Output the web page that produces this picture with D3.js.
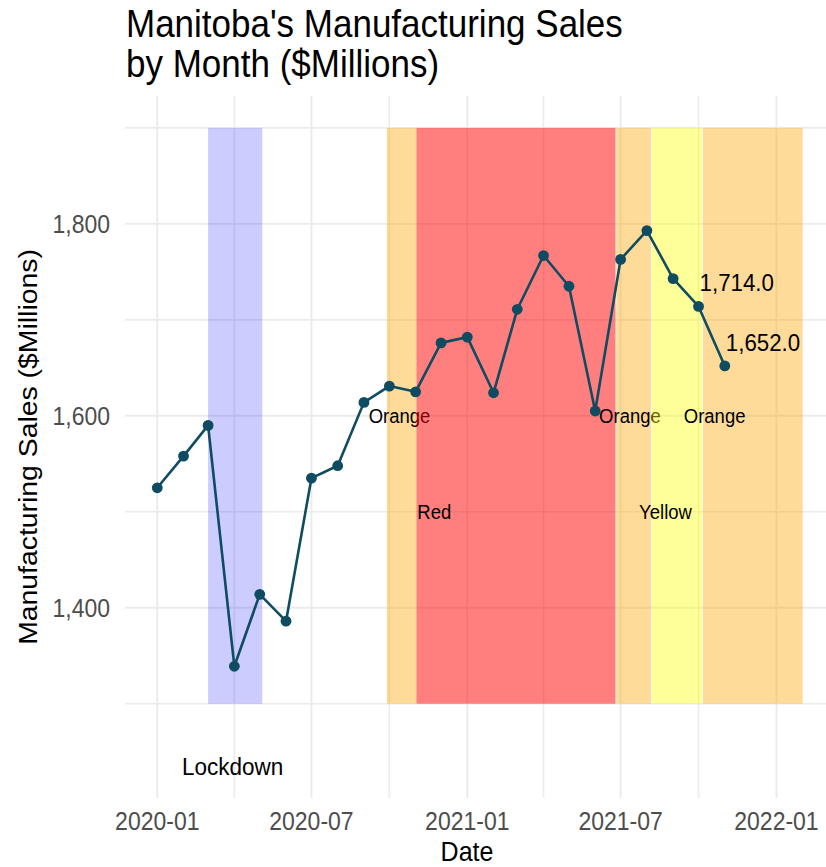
<!DOCTYPE html>
<html>
<head>
<meta charset="utf-8">
<script src="https://cdn.jsdelivr.net/npm/d3@7"></script>
<style>
  html, body { margin: 0; padding: 0; background: #ffffff; }
  svg { display: block; font-family: "Liberation Sans", Arial, sans-serif; }
</style>
</head>
<body>
<svg id="chart" width="826" height="867"></svg>
<script>
// ---------------- data ----------------
const months = ["2020-01-01","2020-02-01","2020-03-01","2020-04-01","2020-05-01","2020-06-01",
  "2020-07-01","2020-08-01","2020-09-01","2020-10-01","2020-11-01","2020-12-01",
  "2021-01-01","2021-02-01","2021-03-01","2021-04-01","2021-05-01","2021-06-01",
  "2021-07-01","2021-08-01","2021-09-01","2021-10-01","2021-11-01"];
const sales = [1525,1558,1590,1339,1414,1386,1535,1548,1614,1631,1625,1676,
  1682,1624,1711,1767,1735,1605,1763,1793,1743,1714,1652];

const regionNames  = ["Lockdown","Orange","Red","Orange","Yellow","Orange"];
const regionStart  = ["2020-03-01","2020-09-28","2020-11-02","2021-06-26","2021-08-07","2021-10-06"];
const regionEnd    = ["2020-05-04","2020-11-02","2021-06-25","2021-08-06","2021-10-05","2022-02-01"];
const regionColor  = ["blue","orange","red","orange","yellow","orange"];
const regionAlpha  = [0.2,0.4,0.5,0.4,0.4,0.4];
const regionLow = 1300, regionHigh = 1900;
const regionLabelDate  = ["2020-03-30","2020-10-13","2020-11-23","2021-07-12","2021-08-23","2021-10-20"];
const regionLabelValue = [1235,1600,1500,1600,1500,1600];

const labelledMonths = ["2021-10-01","2021-11-01"];
const labelledValues = [1714,1652];
const labelOffset = 25;

const xTicks = ["2020-01-01","2020-07-01","2021-01-01","2021-07-01","2022-01-01"];
const xMinor = ["2020-04-01","2020-10-01","2021-04-01","2021-10-01"];
const yTicks = [1400,1600,1800];
const yMinor = [1300,1500,1700,1900];

const titleLines = ["Manitoba's Manufacturing Sales","by Month ($Millions)"];
const xTitle = "Date";
const yTitle = "Manufacturing Sales ($Millions)";

// ---------------- layout ----------------
const parse = d3.utcParse("%Y-%m-%d");
const SY = 1.1; // vertical glyph stretch seen in the reference
const svg = d3.select("#chart");
const panel = {left: 125, right: 835, top: 96, bottom: 798};

const xMin = parse("2020-01-01"), xMax = parse("2022-02-01");
const xPad = (xMax - xMin) * 0.05;
const x = d3.scaleUtc()
  .domain([new Date(+xMin - xPad), new Date(+xMax + xPad)])
  .range([panel.left, panel.right]);

const yMinData = 1235, yMaxData = 1900;
const yPad = (yMaxData - yMinData) * 0.05;
const y = d3.scaleLinear()
  .domain([yMinData - yPad, yMaxData + yPad])
  .range([panel.bottom, panel.top]);

function txt(g, px, py, s, o) {
  const t = g.append("text")
    .attr("transform", `translate(${px},${py}) scale(1,${SY})` + (o.rotate ? ` rotate(${o.rotate})` : ""))
    .attr("text-anchor", o.anchor || "start")
    .attr("font-size", o.size)
    .attr("fill", o.color || "#000")
    .text(s);
  if (o.dy) t.attr("dy", o.dy);
  return t;
}

svg.append("rect").attr("width", 826).attr("height", 867).attr("fill", "#fff");

// grid
const grid = svg.append("g");
const gridColor = "#ebebeb";
yMinor.concat(yTicks).forEach(v => {
  grid.append("line").attr("x1", panel.left).attr("x2", panel.right)
    .attr("y1", y(v)).attr("y2", y(v))
    .attr("stroke", gridColor).attr("stroke-width", yMinor.includes(v) ? 1.6 : 1.9);
});
xMinor.concat(xTicks).forEach(d => {
  const xx = x(parse(d));
  grid.append("line").attr("x1", xx).attr("x2", xx)
    .attr("y1", panel.top).attr("y2", panel.bottom)
    .attr("stroke", gridColor).attr("stroke-width", xMinor.includes(d) ? 1.6 : 1.9);
});

// regions with their labels (drawn in sequence so later rects tint earlier labels)
const regions = svg.append("g");
regionNames.forEach((name, i) => {
  const x0 = x(parse(regionStart[i])), x1 = x(parse(regionEnd[i]));
  regions.append("rect")
    .attr("x", x0).attr("width", x1 - x0)
    .attr("y", y(regionHigh)).attr("height", y(regionLow) - y(regionHigh))
    .attr("fill", regionColor[i]).attr("fill-opacity", regionAlpha[i]);
  txt(regions, x(parse(regionLabelDate[i])), y(regionLabelValue[i]), name,
    {anchor: "middle", size: i === 0 ? 22.5 : 18.5, dy: "0.36em"});
});

// line + points
const pts = months.map((m, i) => ({d: parse(m), v: sales[i]}));
const lineColor = "#0f4c61";
svg.append("path").datum(pts)
  .attr("d", d3.line().x(p => x(p.d)).y(p => y(p.v)))
  .attr("fill", "none").attr("stroke", lineColor).attr("stroke-width", 2.6)
  .attr("stroke-linejoin", "round");
svg.append("g").selectAll("circle").data(pts).join("circle")
  .attr("cx", p => x(p.d)).attr("cy", p => y(p.v)).attr("r", 5.4)
  .attr("fill", lineColor);

// value labels
const fmt = d3.format(",.1f");
labelledMonths.forEach((m, i) => {
  txt(svg, x(parse(m)) + 1, y(labelledValues[i] + labelOffset), fmt(labelledValues[i]),
    {anchor: "start", size: 22.3, dy: "0.36em"});
});

// axes labels
const axisColor = "#4d4d4d";
yTicks.forEach(v => {
  txt(svg, 110, y(v), d3.format(",")(v), {anchor: "end", size: 23, color: axisColor, dy: "0.36em"});
});
const xFmt = d3.utcFormat("%Y-%m");
xTicks.forEach(d => {
  txt(svg, x(parse(d)), 830, xFmt(parse(d)), {anchor: "middle", size: 23, color: axisColor});
});

// axis titles
txt(svg, 467, 861, xTitle, {anchor: "middle", size: 25});
txt(svg, 37, (panel.top + panel.bottom) / 2, yTitle, {anchor: "middle", size: 25.8, rotate: -90});

// title
titleLines.forEach((s, i) => {
  txt(svg, 126, 37 + i * 40, s, {anchor: "start", size: 35});
});
</script>
</body>
</html>
